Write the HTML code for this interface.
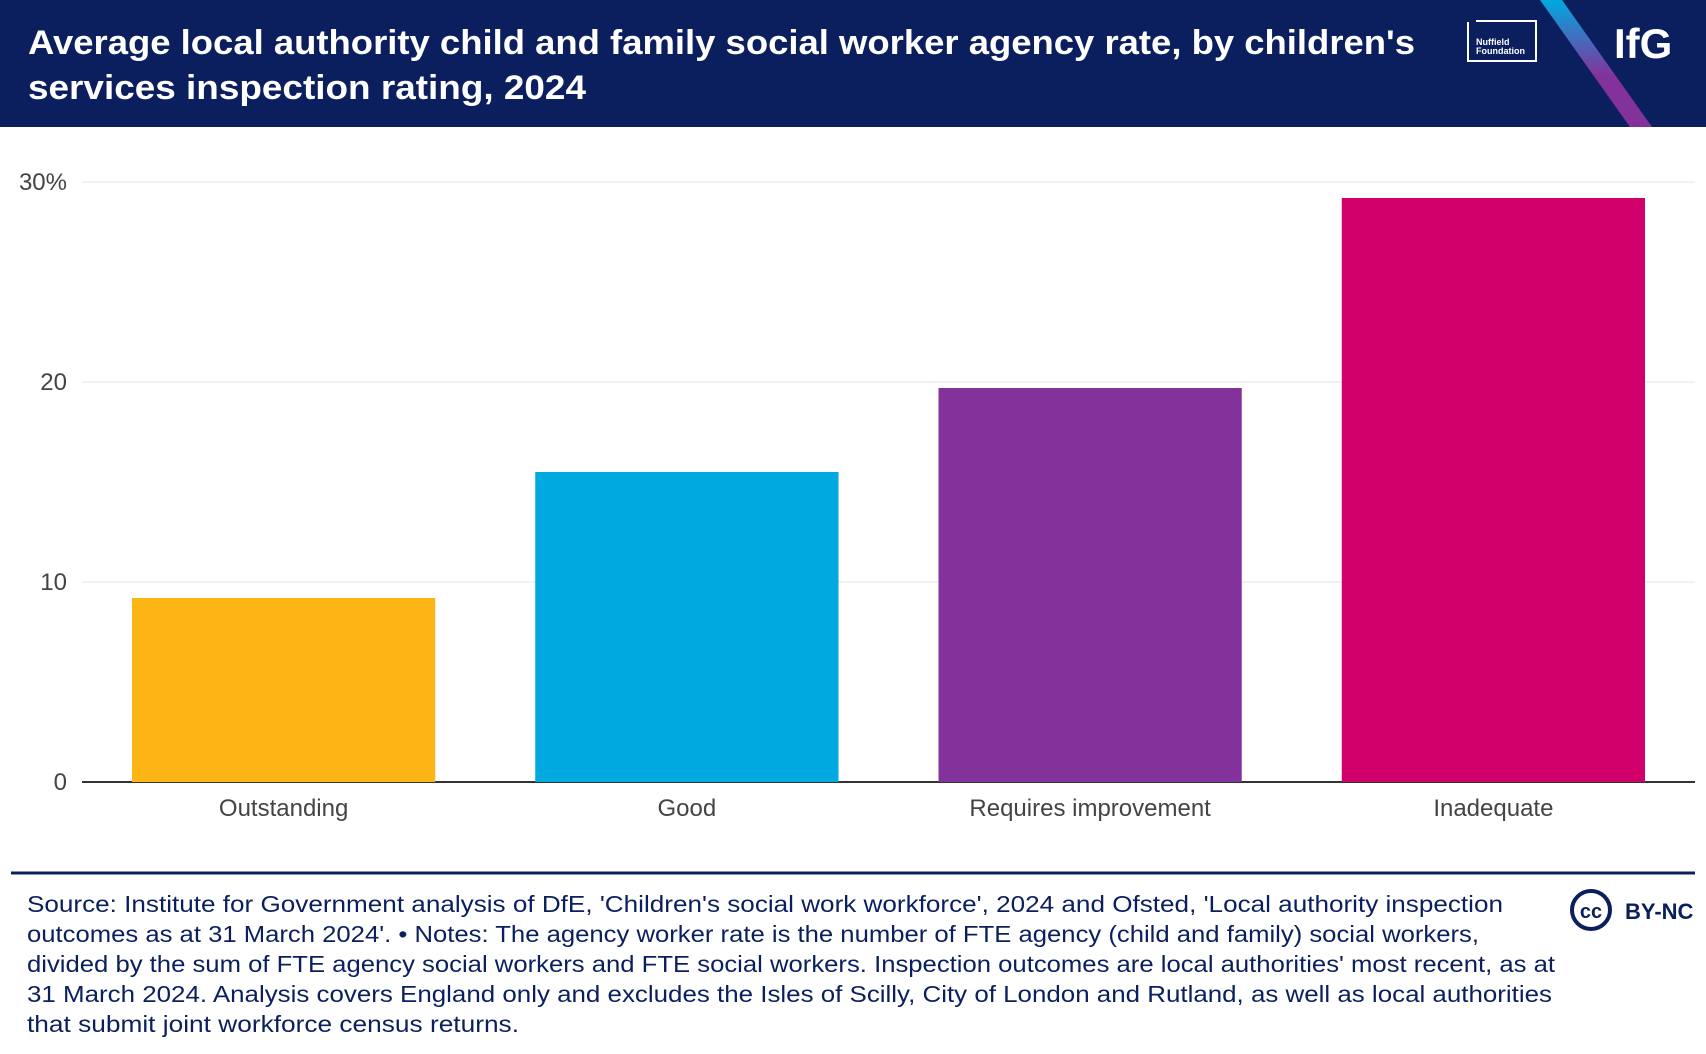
<!DOCTYPE html>
<html><head><meta charset="utf-8"><style>
html,body{margin:0;padding:0;background:#fff}
svg{display:block;font-family:"Liberation Sans",sans-serif}
</style></head><body>
<svg id="chart" width="1706" height="1054" viewBox="0 0 1706 1054">
<defs><linearGradient id="slash" x1="0" y1="0" x2="0" y2="1"><stop offset="0" stop-color="#00a9e0"/><stop offset="0.6" stop-color="#84329b"/><stop offset="1" stop-color="#84329b"/></linearGradient></defs>
<rect x="0" y="0" width="1706" height="127" fill="#0b1f5e"/>
<polygon points="1540,0 1562,0 1652,127 1630,127" fill="url(#slash)"/>
<text x="28" y="54" font-size="34" font-weight="bold" fill="#fff" textLength="1387" lengthAdjust="spacingAndGlyphs">Average local authority child and family social worker agency rate, by children's</text>
<text x="28" y="99" font-size="34" font-weight="bold" fill="#fff" textLength="558" lengthAdjust="spacingAndGlyphs">services inspection rating, 2024</text>
<g>
<polyline points="1468,22 1468,61 1536,61 1536,21 1476,21" fill="none" stroke="#fff" stroke-width="2"/>
<text x="1476" y="45" font-size="9" font-weight="bold" fill="#fff">Nuffield</text>
<text x="1476" y="54" font-size="9" font-weight="bold" fill="#fff">Foundation</text>
</g>
<text x="1614" y="58" font-size="42" font-weight="bold" fill="#fff">IfG</text>
<g id="grid"></g>
<g id="bars"></g>
<g id="labels"></g>
<line x1="11" y1="873" x2="1695" y2="873" stroke="#0b1f5e" stroke-width="3"/>
<g fill="#0b1f5e" font-size="23">
<text x="27" y="912" textLength="1476" lengthAdjust="spacingAndGlyphs">Source: Institute for Government analysis of DfE, 'Children's social work workforce', 2024 and Ofsted, 'Local authority inspection</text>
<text x="27" y="942" textLength="1452" lengthAdjust="spacingAndGlyphs">outcomes as at 31 March 2024'. • Notes: The agency worker rate is the number of FTE agency (child and family) social workers,</text>
<text x="27" y="972" textLength="1528" lengthAdjust="spacingAndGlyphs">divided by the sum of FTE agency social workers and FTE social workers. Inspection outcomes are local authorities' most recent, as at</text>
<text x="27" y="1002" textLength="1525" lengthAdjust="spacingAndGlyphs">31 March 2024. Analysis covers England only and excludes the Isles of Scilly, City of London and Rutland, as well as local authorities</text>
<text x="27" y="1032" textLength="492" lengthAdjust="spacingAndGlyphs">that submit joint workforce census returns.</text>
</g>
<g>
<circle cx="1591" cy="910" r="19" fill="none" stroke="#0b1f5e" stroke-width="4"/>
<text x="1591" y="918" font-size="20" font-weight="bold" fill="#0b1f5e" text-anchor="middle">cc</text>
<text x="1625" y="919" font-size="22" font-weight="bold" fill="#0b1f5e">BY-NC</text>
</g>
</svg>
<script>
const categories = ["Outstanding","Good","Requires improvement","Inadequate"];
const values = [9.2, 15.5, 19.7, 29.2];
const colors = ["#fdb515","#00a9e0","#84329b","#d1006b"];
const ticks = [0,10,20,30];
const tickLabels = ["0","10","20","30%"];
const NS="http://www.w3.org/2000/svg";
const X0=82,X1=1695,Y0=782,YTOP=182,VMAX=30;
const y=v=>Y0-(Y0-YTOP)*v/VMAX;
const band=(X1-X0)/categories.length, bw=band*0.752;
const xc=i=>X0+band*(i+0.5);
function mk(t,a){const e=document.createElementNS(NS,t);for(const k in a)e.setAttribute(k,a[k]);return e;}
const g=document.getElementById('grid'),b=document.getElementById('bars'),l=document.getElementById('labels');
ticks.forEach((t,i)=>{
  const ln=mk('line',{x1:X0,x2:X1,y1:y(t),y2:y(t),stroke:t===0?'#333':'#e6e6e6','stroke-width':t===0?2:1});
  
  
  g.appendChild(ln);
  const tx=mk('text',{x:67,y:y(t)+8,'font-size':24,fill:'#444','text-anchor':'end'});
  tx.textContent=tickLabels[i];
  
  
  l.appendChild(tx);
});
categories.forEach((c,i)=>{
  const r=mk('rect',{x:xc(i)-bw/2,y:y(values[i]),width:bw,height:Y0-y(values[i]),fill:colors[i]});
  
  
  b.appendChild(r);
  const tx=mk('text',{x:xc(i),y:816,'font-size':24,fill:'#444','text-anchor':'middle'});
  tx.textContent=c;
  
  
  l.appendChild(tx);
});
</script>
</body></html>
